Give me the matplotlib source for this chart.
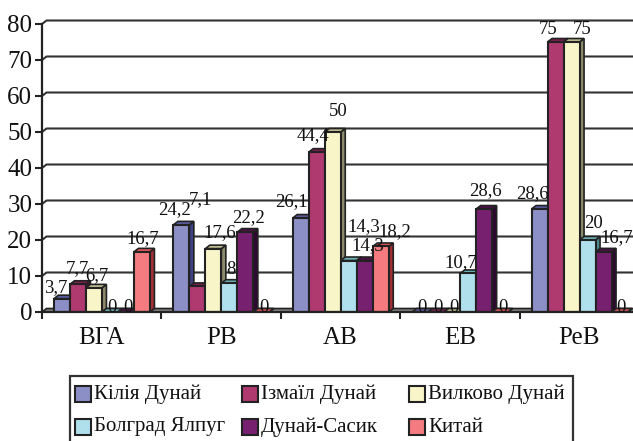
import matplotlib
matplotlib.use("Agg")
import matplotlib.pyplot as plt
from matplotlib.patches import Polygon, Rectangle
import numpy as np

categories = ["ВГА", "РВ", "АВ", "ЕВ", "РеВ"]
series = ["Кілія Дунай", "Ізмаїл Дунай", "Вилково Дунай", "Болград Ялпуг", "Дунай-Сасик", "Китай"]
kilia = [3.7, 24.2, 26.1, 0, 28.6]
izmail = [7.7, 7.1, 44.4, 0, 75]
vylkovo = [6.7, 17.6, 50, 0, 75]
bolgrad = [0, 8, 14.3, 10.7, 20]
sasyk = [0, 22.2, 14.3, 28.6, 16.7]
kytai = [16.7, 0, 18.2, 0, 0]
values = [kilia, izmail, vylkovo, bolgrad, sasyk, kytai]

front = ["#8C8FC6", "#AE3A70", "#F8F6C8", "#B0E0EC", "#782070", "#F47C80"]
top = ["#5A5CA0", "#7A1F50", "#BDBC90", "#6FB5B8", "#4D1048", "#E0555A"]
side = ["#3F4180", "#5C1038", "#8C8B6C", "#4E8A8E", "#2E0830", "#A03036"]

# label shifts in pixels from the bar centre/top, the original has them dragged around
shifts = {
    (0, 0): (-6, 11), (0, 1): (-1, 16), (0, 2): (3, 12), (0, 3): (2, 4), (0, 4): (2, 4), (0, 5): (1, 13),
    (1, 0): (-7, 15), (1, 1): (3, 87), (1, 2): (6, 16), (1, 3): (2, 14), (1, 4): (3, 14), (1, 5): (3, 4),
    (2, 0): (-9, 16), (2, 1): (-4, 17), (2, 2): (6, 21), (2, 3): (15, 34), (2, 4): (3, 15), (2, 5): (14, 15),
    (3, 0): (2, 4), (3, 1): (2, 4), (3, 2): (2, 4), (3, 3): (-7, 11), (3, 4): (1, 18), (3, 5): (3, 4),
    (4, 0): (-7, 15), (4, 1): (-7, 12), (4, 2): (11, 12), (4, 3): (6, 17), (4, 4): (13, 14), (4, 5): (1, 4),
}

W, H = 633, 441
LEFT, BOTTOM = 42, 312
STEP = 119.4
PX_Y = 3.6
DEPTH_X, DEPTH_Y = 4.5, 3.5
BAR = 16 / STEP
EDGE = "#222222"

plt.rcParams["font.family"] = ["Liberation Serif", "DejaVu Serif"]
fig = plt.figure(figsize=(W / 100, H / 100), dpi=100)
ax = fig.add_axes([LEFT / W, (H - BOTTOM) / H, STEP * 5 / W, 80 * PX_Y / H])
ax.set_xlim(0, 5)
ax.set_ylim(0, 80)
ax.patch.set_alpha(0)
dx = DEPTH_X / STEP
dy = DEPTH_Y / PX_Y

# back wall lines with the little step at the left axis
for v in range(10, 90, 10):
    ax.plot([0, dx, 5], [v, v + dy, v + dy], color="#333333", lw=1.5, zorder=1, clip_on=False)

# floor
ax.add_patch(Polygon([(0, 0), (dx, dy), (5 + dx, dy), (5, 0)], closed=True,
                     facecolor="#808080", edgecolor=EDGE, lw=1.2, zorder=1.5))

for s, vals in enumerate(values):
    for c, v in enumerate(vals):
        x0 = c + 0.1 + s * BAR
        x1 = x0 + BAR
        z = 2 + c + s * 0.1
        ax.add_patch(Polygon([(x1, 0), (x1 + dx, dy), (x1 + dx, v + dy), (x1, v)], closed=True,
                             facecolor=side[s], edgecolor=EDGE, lw=1.2, zorder=z))
        ax.add_patch(Polygon([(x0, v), (x0 + dx, v + dy), (x1 + dx, v + dy), (x1, v)], closed=True,
                             facecolor=top[s], edgecolor=EDGE, lw=1.2, zorder=z))
        if v > 0:
            ax.bar(x0, v, BAR, align="edge", color=front[s], edgecolor=EDGE, lw=1.5, zorder=z + 0.01)
        sx, sy = shifts[(c, s)]
        ax.annotate(str(v).replace(".", ","), (x0 + BAR / 2, v), xytext=(sx * 0.72, sy * 0.72),
                    textcoords="offset points", ha="center", va="center", fontsize=13.5,
                    color="#111111", zorder=20, annotation_clip=False)

for name in ["top", "right"]:
    ax.spines[name].set_visible(False)
for name in ["left", "bottom"]:
    ax.spines[name].set_linewidth(1.6)
    ax.spines[name].set_color(EDGE)
    ax.spines[name].set_zorder(15)

ax.set_yticks(range(0, 90, 10))
ax.tick_params(axis="y", labelsize=18, length=5, width=1.5, color=EDGE, pad=2, labelcolor="#111111")
ax.set_xticks(range(6))
ax.set_xticklabels([])
ax.tick_params(axis="x", length=5, width=1.5, color=EDGE)
for i, cat in enumerate(categories):
    ax.annotate(cat, (i + 0.5, 0), xytext=(0, -19), textcoords="offset points", ha="center",
                va="center", fontsize=18, color="#111111", annotation_clip=False)

# legend by hand, the columns in the original are not evenly spaced
leg_x = [75, 242, 409]
leg_y = [394, 427]
fig.add_artist(Rectangle((70 / W, 1 - 460 / H), 503 / W, 84 / H, transform=fig.transFigure,
                         facecolor="white", edgecolor="#333333", lw=1.6))
for i, name in enumerate(series):
    px = leg_x[i % 3]
    py = leg_y[i // 3]
    fig.add_artist(Rectangle((px / W, 1 - (py + 8) / H), 16 / W, 16 / H, transform=fig.transFigure,
                             facecolor=front[i], edgecolor=EDGE, lw=1.5))
    fig.text((px + 19) / W, 1 - py / H, name, fontsize=15, va="center", ha="left", color="#111111")

fig.savefig("out.png", dpi=100)
